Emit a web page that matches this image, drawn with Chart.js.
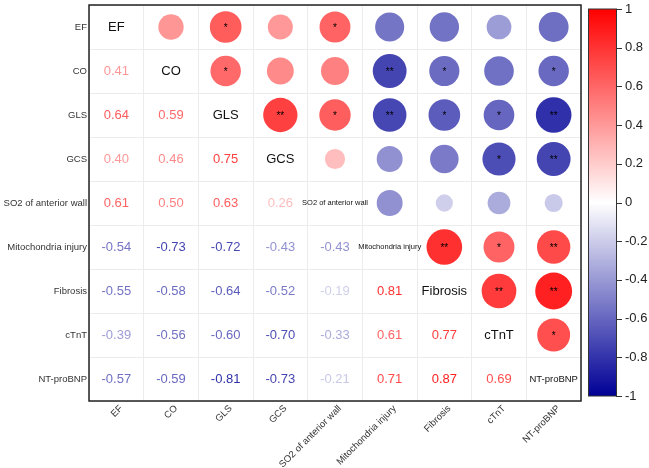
<!DOCTYPE html>
<html>
<head>
<meta charset="utf-8">
<script src="https://cdn.jsdelivr.net/npm/chart.js@4/dist/chart.umd.min.js"></script>
<style>
  html, body { margin:0; padding:0; background:#fff; }
  #wrap { width:649px; height:468px; }
</style>
</head>
<body>
<div id="wrap"><canvas id="corr" width="649" height="468"></canvas></div>
<script>
// variables (row / column order)
const vars = ['EF','CO','GLS','GCS','SO2 of anterior wall','Mitochondria injury','Fibrosis','cTnT','NT-proBNP'];

// lower triangle of the correlation matrix, row by row
const corrRows = [
  [],
  [0.41],
  [0.64, 0.59],
  [0.40, 0.46, 0.75],
  [0.61, 0.50, 0.63, 0.26],
  [-0.54, -0.73, -0.72, -0.43, -0.43],
  [-0.55, -0.58, -0.64, -0.52, -0.19, 0.81],
  [-0.39, -0.56, -0.60, -0.70, -0.33, 0.61, 0.77],
  [-0.57, -0.59, -0.81, -0.73, -0.21, 0.71, 0.87, 0.69]
];

// significance marks for the same pairs (shown in the upper triangle)
const sigRows = [
  [],
  [''],
  ['*', '*'],
  ['', '', '**'],
  ['*', '', '*', ''],
  ['', '**', '**', '', ''],
  ['', '*', '*', '', '', '**'],
  ['', '', '*', '*', '', '*', '**'],
  ['', '*', '**', '**', '', '**', '**', '*']
];

const colorbarTicks = [-1, -0.8, -0.6, -0.4, -0.2, 0, 0.2, 0.4, 0.6, 0.8, 1];

// font size of the names on the diagonal
const diagFont = { 'SO2 of anterior wall': 7.5, 'Mitochondria injury': 7.5, 'NT-proBNP': 9.5 };

const FONT = 'Arial, "Liberation Sans", sans-serif';
const MAX_R = 19.8;

function corrColor(r){
  if (r >= 0) {
    const k = Math.round(255*(1-r));
    return `rgb(255,${k},${k})`;
  }
  const a = -r;
  const k = Math.round(255*(1-a));
  const b = Math.round(255 - a*(255-150));
  return `rgb(${k},${k},${b})`;
}

// circles for the upper triangle
const points = [];
for (let i=0; i<vars.length; i++){
  for (let j=i+1; j<vars.length; j++){
    points.push({ x: vars[j], y: vars[i], v: corrRows[j][i], s: sigRows[j][i] });
  }
}

const matrixText = {
  id: 'matrixText',
  afterDatasetsDraw(chart){
    const { ctx, scales:{ x, y } } = chart;
    ctx.save();
    ctx.textAlign = 'center'; ctx.textBaseline = 'middle';
    // stars
    ctx.fillStyle = '#000';
    ctx.font = `10px ${FONT}`;
    points.forEach(p => {
      if (!p.s) return;
      ctx.fillText(p.s, x.getPixelForValue(vars.indexOf(p.x)), y.getPixelForValue(vars.indexOf(p.y)) + 1);
    });
    // numbers in lower triangle
    ctx.font = `13px ${FONT}`;
    corrRows.forEach((row, i) => row.forEach((v, j) => {
      ctx.fillStyle = corrColor(v);
      ctx.fillText(v.toFixed(2), x.getPixelForValue(j), y.getPixelForValue(i));
    }));
    // names on the diagonal
    ctx.fillStyle = '#111';
    vars.forEach((name, i) => {
      ctx.font = `${diagFont[name] || 13}px ${FONT}`;
      ctx.fillText(name, x.getPixelForValue(i), y.getPixelForValue(i));
    });
    ctx.restore();
  },
  afterDraw(chart){
    const { ctx, chartArea:a, scales:{ cb } } = chart;
    ctx.save();
    // plot frame
    ctx.strokeStyle = '#222'; ctx.lineWidth = 1.5;
    ctx.strokeRect(a.left, a.top, a.right-a.left, a.bottom-a.top);
    // colour bar
    const top = cb.getPixelForValue(1), bot = cb.getPixelForValue(-1);
    const left = cb.left + 7, w = 28;
    const g = ctx.createLinearGradient(0, top, 0, bot);
    colorbarTicks.forEach(t => g.addColorStop((1-t)/2, corrColor(t)));
    ctx.fillStyle = g;
    ctx.fillRect(left, top, w, bot-top);
    ctx.strokeStyle = '#333'; ctx.lineWidth = 1;
    ctx.strokeRect(left+0.5, top, w, bot-top);
    ctx.beginPath();
    colorbarTicks.forEach(t => {
      const py = Math.round(cb.getPixelForValue(t)) + 0.5;
      ctx.moveTo(left+w, py); ctx.lineTo(left+w+6, py);
    });
    ctx.stroke();
    ctx.restore();
  }
};

new Chart(document.getElementById('corr'), {
  type: 'scatter',
  data: {
    datasets: [{
      data: points,
      pointRadius: c => Math.sqrt(Math.abs(c.raw.v)) * MAX_R,
      pointHoverRadius: c => Math.sqrt(Math.abs(c.raw.v)) * MAX_R,
      backgroundColor: c => corrColor(c.raw.v),
      borderWidth: 0
    }]
  },
  options: {
    responsive: false,
    animation: false,
    layout: { autoPadding: false, padding: { top: 5, left: 0, right: 0, bottom: 0 } },
    plugins: { legend: { display: false }, tooltip: { enabled: false } },
    scales: {
      x: {
        type: 'category', labels: vars, offset: true, position: 'bottom',
        grid: { offset: true, color: '#ececec', drawTicks: false },
        border: { display: false },
        ticks: { autoSkip: false, maxRotation: 45, minRotation: 45, padding: 2, labelOffset: 5, color: '#333', font: { family: FONT, size: 9.5 } },
        afterFit: s => { s.height = 67; s.paddingLeft = 0; s.paddingRight = 0; }
      },
      y: {
        type: 'category', labels: vars, offset: true, position: 'left',
        grid: { offset: true, color: '#ececec', drawTicks: false },
        border: { display: false },
        ticks: { autoSkip: false, padding: 2, color: '#333', font: { family: FONT, size: 9.5 } },
        afterFit: s => { s.width = 89; s.paddingTop = 0; s.paddingBottom = 0; }
      },
      cb: {
        type: 'linear', position: 'right', min: -1.0258, max: 1.0207,
        grid: { display: false }, border: { display: false },
        afterBuildTicks: s => { s.ticks = colorbarTicks.map(v => ({ value: v })); },
        ticks: { padding: 36, color: '#222', font: { family: FONT, size: 13 }, callback: v => String(v) },
        afterFit: s => { s.width = 68; s.paddingTop = 0; s.paddingBottom = 0; }
      }
    }
  },
  plugins: [matrixText]
});
</script>
</body>
</html>
